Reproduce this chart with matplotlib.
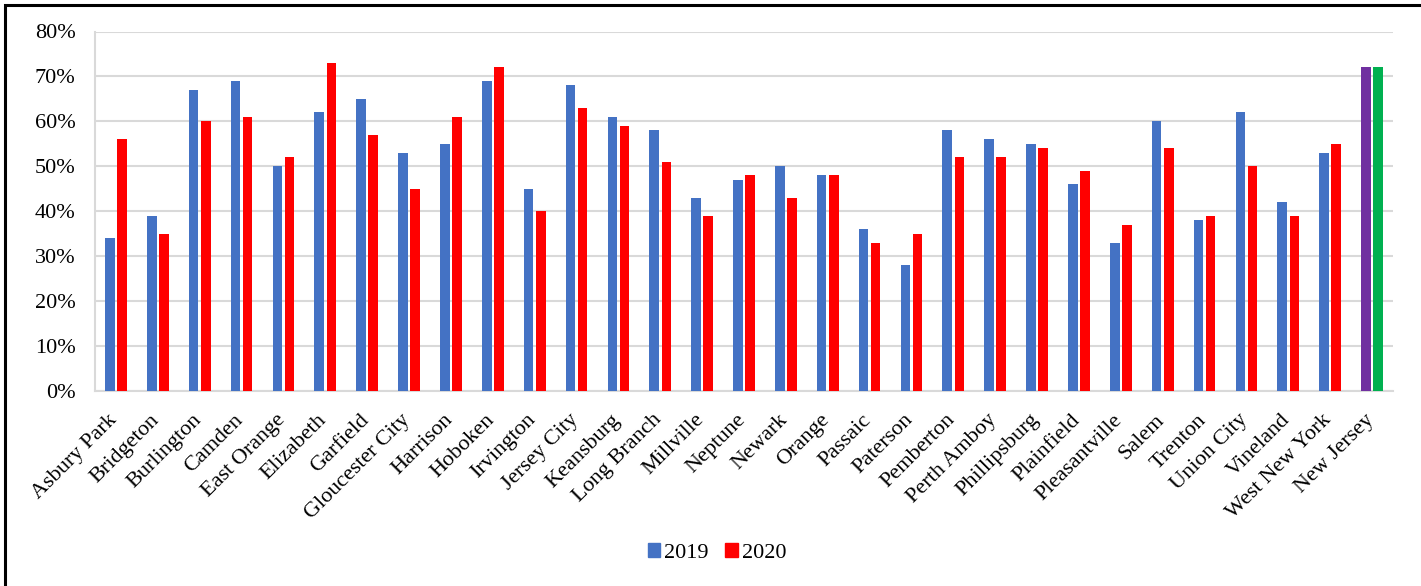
import matplotlib
matplotlib.use("Agg")
import matplotlib.pyplot as plt
import matplotlib.transforms as mtransforms
import numpy as np
from matplotlib.patches import Rectangle, Patch

cities = ["Asbury Park", "Bridgeton", "Burlington", "Camden", "East Orange",
          "Elizabeth", "Garfield", "Gloucester City", "Harrison", "Hoboken",
          "Irvington", "Jersey City", "Keansburg", "Long Branch", "Millville",
          "Neptune", "Newark", "Orange", "Passaic", "Paterson", "Pemberton",
          "Perth Amboy", "Phillipsburg", "Plainfield", "Pleasantville", "Salem",
          "Trenton", "Union City", "Vineland", "West New York", "New Jersey"]
rate_2019 = [34, 39, 67, 69, 50, 62, 65, 53, 55, 69, 45, 68, 61, 58, 43, 47,
             50, 48, 36, 28, 58, 56, 55, 46, 33, 60, 38, 62, 42, 53, 72]
rate_2020 = [56, 35, 60, 61, 52, 73, 57, 45, 61, 72, 40, 63, 59, 51, 39, 48,
             43, 48, 33, 35, 52, 52, 54, 49, 37, 54, 39, 50, 39, 55, 72]
series_labels = ["2019", "2020"]

BLUE, RED = "#4472C4", "#FF0000"
PURPLE, GREEN = "#7030A0", "#00B050"
GRID = "#D9D9D9"

plt.rcParams["font.family"] = ["Liberation Serif", "DejaVu Serif"]

fig = plt.figure(figsize=(14.21, 5.86), dpi=100)
ax = fig.add_axes([95 / 1421, 1 - 391 / 586, (1393 - 95) / 1421, (391 - 31.5) / 586])

n = len(cities)
x = np.arange(n)
width = 0.23
off = 0.145
c19 = [BLUE] * (n - 1) + [PURPLE]
c20 = [RED] * (n - 1) + [GREEN]
ax.bar(x - off, rate_2019, width, color=c19, zorder=3)
ax.bar(x + off, rate_2020, width, color=c20, zorder=3)

ax.set_xlim(-0.5, n - 0.5)
ax.set_ylim(0, 80)
ax.set_yticks(np.arange(0, 81, 10))
ax.set_yticklabels([f"{v}%" for v in range(0, 81, 10)], fontsize=16)
ax.set_xticks(x)
ax.set_xticklabels(cities, rotation=45, ha="right", rotation_mode="anchor", fontsize=16)
ax.tick_params(axis="y", length=0, pad=14)
ax.tick_params(axis="x", length=0, pad=9)

# nudge the slanted category labels down and to the left
shift = mtransforms.ScaledTranslation(-8 / 100, -7 / 100, fig.dpi_scale_trans)
for lbl in ax.get_xticklabels():
    lbl.set_transform(lbl.get_transform() + shift)

ax.grid(axis="y", color=GRID, linewidth=1.5, zorder=0)
for s in ("top", "right"):
    ax.spines[s].set_visible(False)
for s in ("left", "bottom"):
    ax.spines[s].set_color(GRID)
    ax.spines[s].set_linewidth(1.5)

handles = [Patch(color=BLUE), Patch(color=RED)]
fig.legend(handles, series_labels, loc="center", bbox_to_anchor=(0.5046, 0.0563),
           ncol=2, frameon=False, fontsize=16, handlelength=0.55, handleheight=0.55,
           handletextpad=0.2, columnspacing=0.75, borderpad=0)

# frame around the figure panel
fig.patches.append(Rectangle((5 / 1421, -0.1), 1.2, 1 - 5 / 586 + 0.1,
                             transform=fig.transFigure, fill=False,
                             edgecolor="black", linewidth=2.2))

fig.savefig("out.png", dpi=100)
